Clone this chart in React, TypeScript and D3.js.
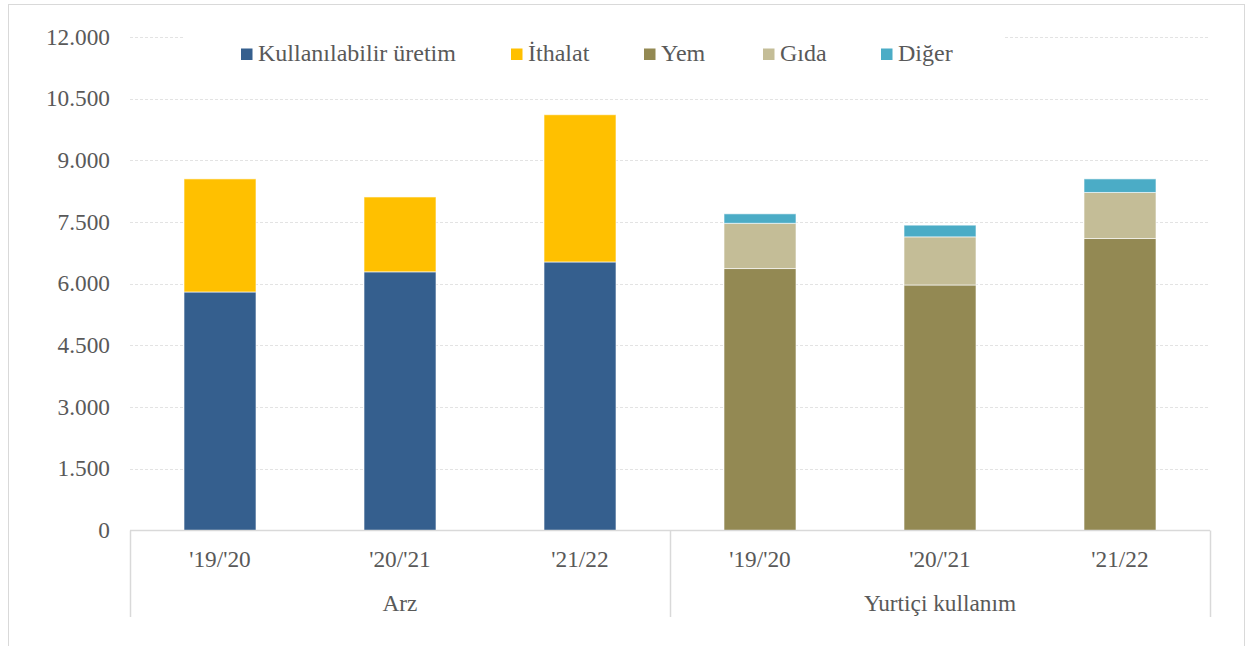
import React from "react";
import * as d3 from "d3";

const groups = ["Arz", "Yurtiçi kullanım"];
const periods = ["'19/'20", "'20/'21", "'21/22"];
const categories = ["A-'19/'20", "A-'20/'21", "A-'21/22", "Y-'19/'20", "Y-'20/'21", "Y-'21/22"];

const kullanilabilirUretim = [5800, 6290, 6530, 0, 0, 0];
const ithalat = [2750, 1820, 3580, 0, 0, 0];
const yem = [0, 0, 0, 6370, 5970, 7100];
const gida = [0, 0, 0, 1100, 1170, 1120];
const diger = [0, 0, 0, 230, 285, 330];

const seriesNames = ["Kullanılabilir üretim", "İthalat", "Yem", "Gıda", "Diğer"];
const seriesValues = [kullanilabilirUretim, ithalat, yem, gida, diger];
const seriesColors = ["#355F8E", "#FFC000", "#938953", "#C4BD97", "#4BACC6"];

const yTicks = [0, 1500, 3000, 4500, 6000, 7500, 9000, 10500, 12000];

const W = 1246;
const H = 646;
const left = 130;
const right = 1210;
const top = 37;
const bottom = 530.5;

const fmt = (v: number) => d3.format(",")(v).replace(/,/g, ".");
const FONT = "Liberation Serif";

export default function App() {
  const x = d3.scaleBand<string>().domain(categories).range([left, right]).paddingInner(0.6).paddingOuter(0.3);
  const y = d3.scaleLinear().domain([0, 12000]).range([bottom, top]);
  const step = x.step();
  const textColor = "#595959";

  const rows = categories.map((c, i) => {
    const obj: any = { cat: c };
    seriesNames.forEach((s, j) => (obj[s] = seriesValues[j][i]));
    return obj;
  });
  const stack = d3.stack<any>().keys(seriesNames)(rows);

  const legendX = [241, 511, 644, 763, 881];

  return (
    <svg width={W} height={H} style={{ position: "absolute", left: 0, top: 0 }}>
      <rect x={0} y={0} width={W} height={H} fill="#fff" />
      <rect x={8.5} y={4.5} width={1236} height={660} fill="none" stroke="#d9d9d9" strokeWidth={1} />
      {yTicks.slice(1).map((t) => (
        <line key={t} x1={left} x2={right} y1={Math.round(y(t)) + 0.5} y2={Math.round(y(t)) + 0.5} stroke="#e3e3e3" strokeWidth={1} strokeDasharray="3,2" />
      ))}
      {yTicks.map((t) => (
        <text key={t} x={110} y={y(t) + 7.5} textAnchor="end" fontSize={23.3} fill={textColor} fontFamily={FONT}>
          {fmt(t)}
        </text>
      ))}
      <rect x={183} y={30} width={822} height={40} fill="#fff" />
      {seriesNames.map((s, i) => (
        <g key={s}>
          <rect x={legendX[i]} y={48.5} width={11.5} height={11.5} fill={seriesColors[i]} />
          <text x={legendX[i] + 17} y={61} fontSize={24} fill={textColor} fontFamily={FONT}>
            {s}
          </text>
        </g>
      ))}
      {stack.map((layer, j) =>
        layer.map((d, i) =>
          d[1] - d[0] > 0 ? (
            <rect
              key={j + "-" + i}
              x={x(categories[i])}
              y={y(d[1])}
              width={x.bandwidth()}
              height={y(d[0]) - y(d[1])}
              fill={seriesColors[j]}
              stroke="#ffffff"
              strokeOpacity={0.6}
              strokeWidth={1}
            />
          ) : null
        )
      )}
      <line x1={left} x2={right} y1={bottom} y2={bottom} stroke="#d9d9d9" strokeWidth={1.5} />
      {[0, 3, 6].map((k) => (
        <line key={k} x1={left + k * step + 0.5} x2={left + k * step + 0.5} y1={bottom} y2={617} stroke="#d9d9d9" strokeWidth={1.5} />
      ))}
      {categories.map((c, i) => (
        <text key={c} x={(x(c) as number) + x.bandwidth() / 2} y={567} textAnchor="middle" fontSize={23.3} fill={textColor} fontFamily={FONT}>
          {periods[i % 3]}
        </text>
      ))}
      {groups.map((g, k) => (
        <text key={g} x={left + (k * 3 + 1.5) * step} y={611} textAnchor="middle" fontSize={23.3} fill={textColor} fontFamily={FONT}>
          {g}
        </text>
      ))}
    </svg>
  );
}
